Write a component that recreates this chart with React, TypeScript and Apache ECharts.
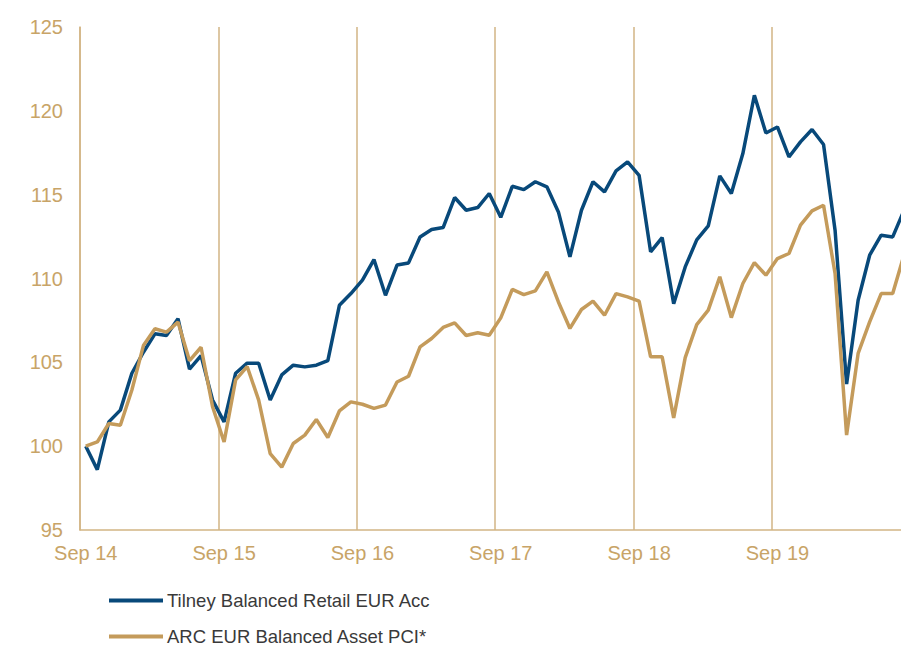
import React, { useEffect, useRef } from "react";
import * as echarts from "echarts";

const months = ["Sep","Oct","Nov","Dec","Jan","Feb","Mar","Apr","May","Jun","Jul","Aug"];
const categories: string[] = [];
for (let i = 0; i < 72; i++) {
  const m = months[i % 12];
  const yr = 14 + Math.floor((i + 8) / 12);
  categories.push(m + " " + yr);
}

const tilney = [
  100.0, 98.6, 101.45, 102.15, 104.35, 105.6, 106.7, 106.6, 107.6, 104.6, 105.4, 102.75,
  101.45, 104.35, 104.95, 104.95, 102.75, 104.25, 104.83, 104.73, 104.83, 105.1, 108.4, 109.1,
  109.9, 111.13, 109.0, 110.8, 110.93, 112.48, 112.92, 113.04, 114.83, 114.07, 114.23, 115.07,
  113.65, 115.5, 115.3, 115.77, 115.47, 113.97, 111.29, 114.07, 115.77, 115.17, 116.42, 116.95,
  116.15, 111.59, 112.44, 108.5, 110.69, 112.3, 113.14, 116.12, 115.07, 117.45, 120.93, 118.68,
  119.04, 117.25, 118.15, 118.89, 117.99, 112.88, 103.7, 108.7, 111.39, 112.58, 112.48, 114.1
];

const arc = [
  100.0, 100.25, 101.35, 101.25, 103.35, 106.0, 107.0, 106.8, 107.4, 105.1, 105.9, 102.35,
  100.25, 103.95, 104.75, 102.75, 99.55, 98.75, 100.16, 100.66, 101.59, 100.52, 102.1, 102.64,
  102.5, 102.25, 102.45, 103.83, 104.17, 105.92, 106.42, 107.08, 107.35, 106.6, 106.76, 106.62,
  107.65, 109.35, 109.04, 109.26, 110.39, 108.6, 107.02, 108.15, 108.65, 107.81, 109.1, 108.9,
  108.65, 105.33, 105.33, 101.69, 105.28, 107.25, 108.11, 110.1, 107.67, 109.7, 110.95, 110.2,
  111.19, 111.49, 113.18, 114.03, 114.37, 110.3, 100.66, 105.53, 107.41, 109.1, 109.1, 111.45
];

const seriesNames = ["Tilney Balanced Retail EUR Acc", "ARC EUR Balanced Asset PCI*"];
const yTicks = { min: 95, max: 125, interval: 5 };

const BLUE = "#08497a";
const GOLD = "#c49b5b";
const LABEL = "#c8a467";
const AXIS = "#d2b584";

const legendBase = {
  orient: "vertical",
  left: 109,
  padding: 0,
  itemWidth: 54,
  itemHeight: 4,
  icon: "rect",
  itemGap: 4,
  textStyle: {
    color: "#3a3a3a",
    fontSize: 18.5,
    lineHeight: 16,
    fontFamily: "Liberation Sans, Arial, sans-serif",
    padding: [0, 0, 0, -1],
  },
};

export default function App() {
  const ref = useRef<HTMLDivElement>(null);
  useEffect(() => {
    if (!ref.current) return;
    const chart = echarts.init(ref.current, undefined, { renderer: "svg" });
    chart.setOption({
      animation: false,
      backgroundColor: "#ffffff",
      grid: { left: 80, right: 1, top: 27, bottom: 116, containLabel: false },
      legend: [
        { ...legendBase, top: 591, data: [seriesNames[0]] },
        { ...legendBase, top: 627, data: [seriesNames[1]] },
      ],
      xAxis: {
        type: "category",
        data: categories,
        boundaryGap: true,
        axisLine: { show: true, lineStyle: { color: AXIS, width: 1.5 } },
        axisTick: { show: false },
        axisLabel: {
          interval: 11,
          color: LABEL,
          fontSize: 20,
          margin: 13,
          fontFamily: "Liberation Sans, Arial, sans-serif",
        },
        splitLine: { show: true, interval: 11, lineStyle: { color: AXIS, width: 1.5 } },
      },
      yAxis: {
        type: "value",
        min: yTicks.min,
        max: yTicks.max,
        interval: yTicks.interval,
        axisLine: { show: true, lineStyle: { color: AXIS, width: 1.5 } },
        axisTick: { show: false },
        splitLine: { show: false },
        axisLabel: {
          color: LABEL,
          fontSize: 20,
          margin: 17,
          fontFamily: "Liberation Sans, Arial, sans-serif",
        },
      },
      series: [
        {
          name: seriesNames[0],
          type: "line",
          data: tilney,
          symbol: "none",
          lineStyle: { color: BLUE, width: 3.5 },
          itemStyle: { color: BLUE },
          z: 3,
        },
        {
          name: seriesNames[1],
          type: "line",
          data: arc,
          symbol: "none",
          lineStyle: { color: GOLD, width: 3.5 },
          itemStyle: { color: GOLD },
          z: 4,
        },
      ],
    });
    return () => chart.dispose();
  }, []);
  return (
    <div style={{ position: "fixed", left: 0, top: 0, width: 901, height: 646, overflow: "hidden", background: "#fff" }}>
      <div ref={ref} style={{ width: 911, height: 646 }} />
    </div>
  );
}
